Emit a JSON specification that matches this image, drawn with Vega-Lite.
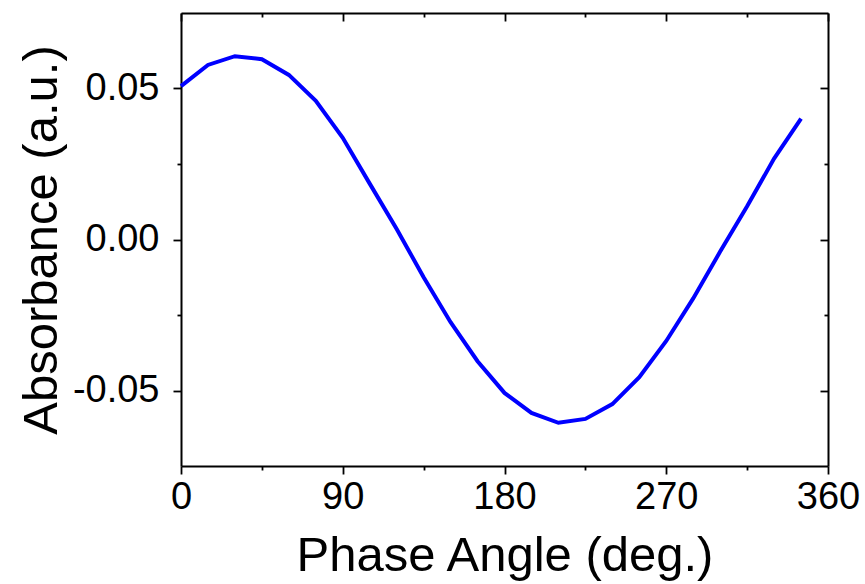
{
  "$schema": "https://vega.github.io/schema/vega-lite/v6.json",
  "width": 647,
  "height": 453,
  "autosize": {"type": "none"},
  "padding": {"left": 181, "top": 13, "right": 37, "bottom": 118},
  "background": "white",
  "config": {
    "view": {"stroke": null},
    "font": "Liberation Sans",
    "axis": {
      "domainColor": "black",
      "domainWidth": 2,
      "tickColor": "black",
      "tickWidth": 1.8,
      "grid": false,
      "labelFlush": false,
      "labelOverlap": false,
      "labelFont": "Liberation Sans",
      "labelFontSize": 38,
      "labelColor": "black",
      "titleFont": "Liberation Sans",
      "titleFontSize": 49,
      "titleFontWeight": "normal",
      "titleColor": "black"
    }
  },
  "data": {
    "values": [
      {"angle": 0, "absorbance": 0.0508},
      {"angle": 15, "absorbance": 0.0578},
      {"angle": 30, "absorbance": 0.0607},
      {"angle": 45, "absorbance": 0.0597},
      {"angle": 60, "absorbance": 0.0545},
      {"angle": 75, "absorbance": 0.0459},
      {"angle": 90, "absorbance": 0.0337},
      {"angle": 105, "absorbance": 0.0185},
      {"angle": 120, "absorbance": 0.0035},
      {"angle": 135, "absorbance": -0.0125},
      {"angle": 150, "absorbance": -0.0274},
      {"angle": 165, "absorbance": -0.0403},
      {"angle": 180, "absorbance": -0.0508},
      {"angle": 195, "absorbance": -0.0574},
      {"angle": 210, "absorbance": -0.0607},
      {"angle": 225, "absorbance": -0.0594},
      {"angle": 240, "absorbance": -0.0545},
      {"angle": 255, "absorbance": -0.0456},
      {"angle": 270, "absorbance": -0.0336},
      {"angle": 285, "absorbance": -0.0195},
      {"angle": 300, "absorbance": -0.004},
      {"angle": 315, "absorbance": 0.011},
      {"angle": 330, "absorbance": 0.0268},
      {"angle": 345, "absorbance": 0.04}
    ]
  },
  "resolve": {"axis": {"x": "independent", "y": "independent"}},
  "layer": [
    {
      "mark": {"type": "line", "strokeOpacity": 0},
      "encoding": {
        "x": {
          "field": "angle", "type": "quantitative",
          "scale": {"domain": [0, 360], "nice": false, "zero": false},
          "axis": {
            "orient": "top", "title": null, "labels": false,
            "values": [0, 45, 90, 135, 180, 225, 270, 315, 360],
            "tickSize": {"condition": {"test": "datum.value % 90 === 0", "value": -8}, "value": -4}
          }
        },
        "y": {
          "field": "absorbance", "type": "quantitative",
          "scale": {"domain": [-0.075, 0.075], "nice": false, "zero": false},
          "axis": {
            "orient": "right", "title": null, "labels": false,
            "values": [-0.05, -0.025, 0, 0.025, 0.05],
            "tickSize": {"condition": {"test": "abs(datum.value * 20 - round(datum.value * 20)) < 0.001", "value": -8}, "value": -4}
          }
        }
      }
    },
    {
      "mark": {"type": "line", "color": "#0000FF", "strokeWidth": 4},
      "encoding": {
        "x": {
          "field": "angle", "type": "quantitative",
          "scale": {"domain": [0, 360], "nice": false, "zero": false},
          "axis": {
            "orient": "bottom", "title": "Phase Angle (deg.)",
            "values": [0, 45, 90, 135, 180, 225, 270, 315, 360],
            "labelExpr": "datum.value % 90 === 0 ? datum.label : ''",
            "tickSize": {"condition": {"test": "datum.value % 90 === 0", "value": 8}, "value": 4},
            "labelPadding": 4,
            "titlePadding": 15
          }
        },
        "y": {
          "field": "absorbance", "type": "quantitative",
          "scale": {"domain": [-0.075, 0.075], "nice": false, "zero": false},
          "axis": {
            "orient": "left", "title": "Absorbance (a.u.)",
            "values": [-0.05, -0.025, 0, 0.025, 0.05],
            "format": ".2f",
            "labelExpr": "abs(datum.value * 20 - round(datum.value * 20)) < 0.001 ? replace(datum.label, '\u2212', '-') : ''",
            "tickSize": {"condition": {"test": "abs(datum.value * 20 - round(datum.value * 20)) < 0.001", "value": 8}, "value": 4},
            "labelPadding": 14,
            "titlePadding": 6
          }
        }
      }
    }
  ]
}
